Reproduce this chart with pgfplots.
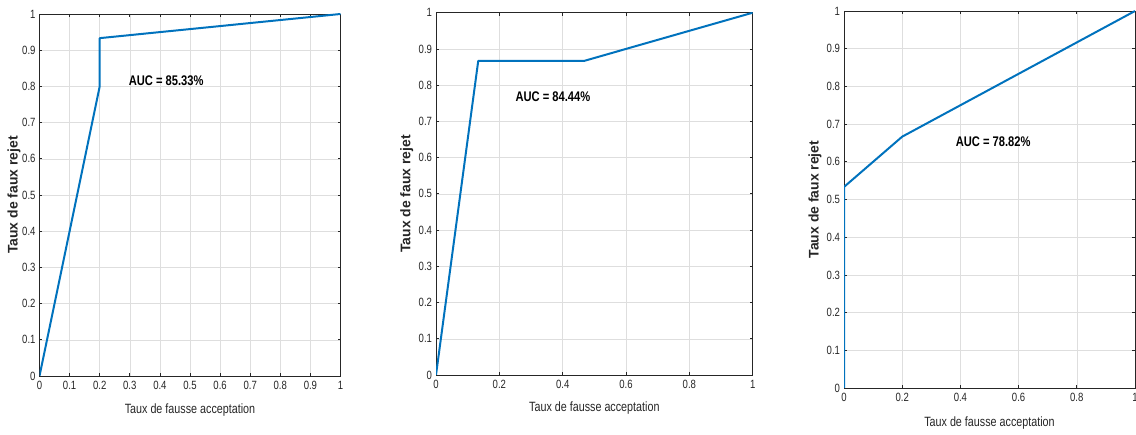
\documentclass[border=0pt]{standalone}
\usepackage{pgfplots}
\pgfplotsset{compat=1.18}
\usepackage{fontspec}
\setmainfont{Liberation Sans}[FakeStretch=0.8]
\newfontfamily\ylabfont{Liberation Sans}
\definecolor{mblue}{RGB}{0,114,189}
\definecolor{axgray}{RGB}{38,38,38}
\pgfplotsset{
  roc/.style={
    scale only axis, anchor=south west,
    xmin=0, xmax=1, ymin=0, ymax=1,
    ytick={0,0.1,0.2,0.3,0.4,0.5,0.6,0.7,0.8,0.9,1},
    yticklabels={0,0.1,0.2,0.3,0.4,0.5,0.6,0.7,0.8,0.9,1},
    grid=major,
    major grid style={draw=black!13, line width=0.5pt},
    tick align=inside, major tick length=3bp,
    axis line style={draw=axgray, line width=0.8pt},
    every tick/.style={draw=axgray, line width=0.8pt},
    tick label style={font=\fontsize{12}{12}\selectfont, text=axgray},
    /pgf/number format/assume math mode=true,
    xticklabel style={yshift=-2bp},
    yticklabel style={xshift=-0.5bp},
    xlabel style={font=\fontsize{13.5}{14}\selectfont, text=axgray, at={(axis description cs:0.5,0)}, anchor=center},
    ylabel style={font=\ylabfont\bfseries\fontsize{14}{14}\selectfont, text=axgray, at={(axis description cs:0,0.5)}, anchor=center},
    xlabel={Taux de fausse acceptation},
    ylabel={Taux de faux rejet},
  },
  rocline/.style={draw=mblue, line width=2pt, mark=none, line join=round},
}
\begin{document}
\begin{tikzpicture}
\useasboundingbox (0,0) rectangle (1136bp,435bp);
% Panel 1
\begin{axis}[roc, at={(39.5bp,59bp)}, width=301bp, height=362bp,
  xtick={0,0.1,0.2,0.3,0.4,0.5,0.6,0.7,0.8,0.9,1},
  xticklabels={0,0.1,0.2,0.3,0.4,0.5,0.6,0.7,0.8,0.9,1},
  xlabel style={yshift=-34bp}, ylabel style={yshift=25.5bp}]
\addplot[rocline] coordinates {(0,0) (0.2,0.8) (0.2,0.9333) (1,1)};
\node[anchor=west, font=\bfseries\fontsize{14}{14}\selectfont, text=black] at (axis cs:0.285,0.815) {AUC = 85.33\%};
\end{axis}
% Panel 2
\begin{axis}[roc, at={(436bp,60bp)}, width=316.7bp, height=362.3bp,
  xtick={0,0.2,0.4,0.6,0.8,1},
  xticklabels={0,0.2,0.4,0.6,0.8,1},
  xlabel style={yshift=-33bp}, ylabel style={yshift=29.3bp}]
\addplot[rocline] coordinates {(0,0) (0.1333,0.8667) (0.4667,0.8667) (1,1)};
\node[anchor=west, font=\bfseries\fontsize{14}{14}\selectfont, text=black] at (axis cs:0.24,0.768) {AUC = 84.44\%};
\end{axis}
% Panel 3
\begin{axis}[roc, at={(844bp,47bp)}, width=291bp, height=377bp,
  xtick={0,0.2,0.4,0.6,0.8,1},
  xticklabels={0,0.2,0.4,0.6,0.8,1},
  xlabel style={yshift=-35bp}, ylabel style={yshift=29bp}]
\addplot[rocline] coordinates {(0,0) (0,0.5333) (0.2,0.6667) (1,1)};
\node[anchor=west, font=\bfseries\fontsize{14}{14}\selectfont, text=black] at (axis cs:0.372,0.653) {AUC = 78.82\%};
\end{axis}
\end{tikzpicture}
\end{document}
